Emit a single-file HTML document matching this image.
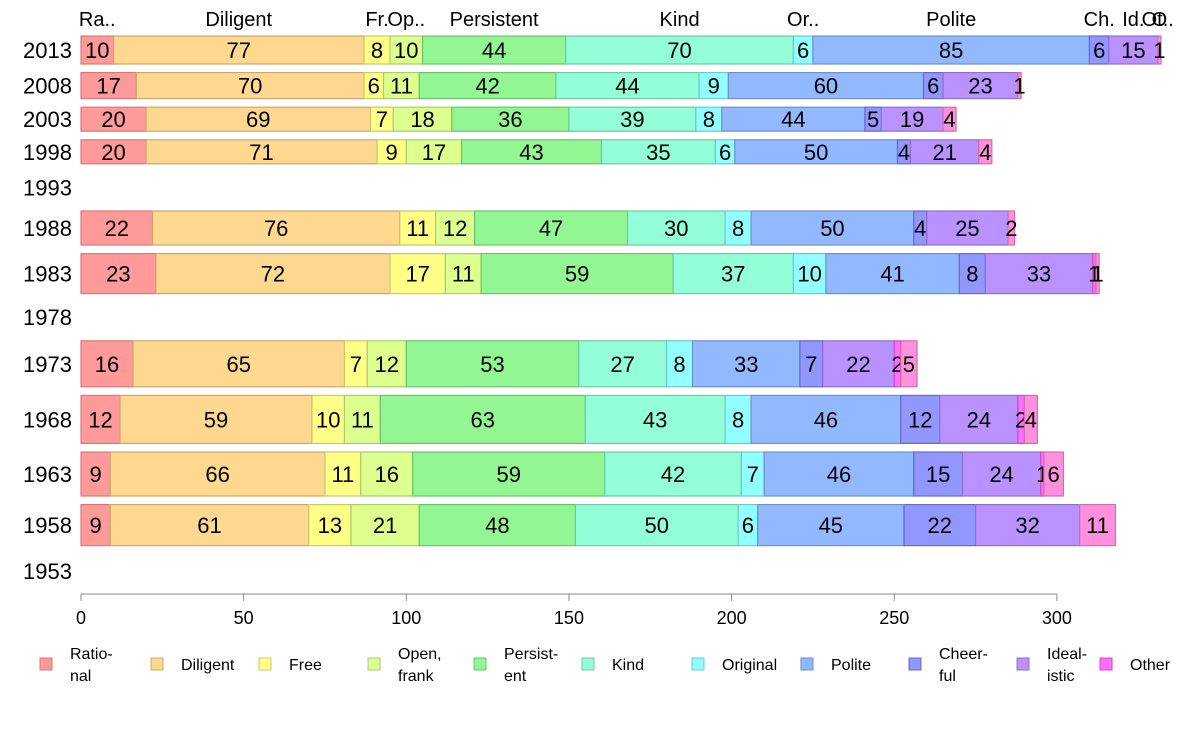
<!DOCTYPE html>
<html><head><meta charset="utf-8">
<style>
body{margin:0;background:#fff;}
svg text{font-family:"Liberation Sans",sans-serif;fill:#000;}
</style></head>
<body>
<svg id="chart" width="1188" height="736" xmlns="http://www.w3.org/2000/svg"></svg>
<script>
const years = ["2013","2008","2003","1998","1993","1988","1983","1978","1973","1968","1963","1958","1953"];
const thickness = [28,26,24,24,30,34,40,30,46,48,44,41,34];
const categories = ["Rational","Diligent","Free","Open, frank","Persistent","Kind","Original","Polite","Cheerful","Idealistic","Other","Other2"];
const shortLabels = ["Ra..","Diligent","Fr.","Op..","Persistent","Kind","Or..","Polite","Ch.","Id.","Ot..","O"];
const legendLabels = [["Ratio-","nal"],["Diligent"],["Free"],["Open,","frank"],["Persist-","ent"],["Kind"],["Original"],["Polite"],["Cheer-","ful"],["Ideal-","istic"],["Other"]];
const v2013 = [10,77,8,10,44,70,6,85,6,15,0,1];
const v2008 = [17,70,6,11,42,44,9,60,6,23,0,1];
const v2003 = [20,69,7,18,36,39,8,44,5,19,0,4];
const v1998 = [20,71,9,17,43,35,6,50,4,21,0,4];
const v1993 = null;
const v1988 = [22,76,11,12,47,30,8,50,4,25,0,2];
const v1983 = [23,72,17,11,59,37,10,41,8,33,1,1];
const v1978 = null;
const v1973 = [16,65,7,12,53,27,8,33,7,22,2,5];
const v1968 = [12,59,10,11,63,43,8,46,12,24,2,4];
const v1963 = [9,66,11,16,59,42,7,46,15,24,1,6];
const v1958 = [9,61,13,21,48,50,6,45,22,32,0,11];
const v1953 = null;
const series = [v2013,v2008,v2003,v1998,v1993,v1988,v1983,v1978,v1973,v1968,v1963,v1958,v1953];
const xTicks = [0,50,100,150,200,250,300];

const fills = ["#ff9a9a","#ffd890","#ffff88","#ddff8e","#92f792","#92ffd9","#92ffff","#92b8ff","#9296ff","#ba92ff","#ff6eff","#ff90dd"];
const strokes = ["#d77a7a","#c9a870","#c8c870","#aacc70","#70c070","#70c8a8","#70c8c8","#7090c8","#6a6ac0","#9070c8","#c850c8","#d070a8"];

const svg = document.getElementById('chart');
const NS = "http://www.w3.org/2000/svg";
const x0 = 81, pxPerUnit = 3.253;
function xs(v){return x0 + v*pxPerUnit;}
function mk(tag, attrs, parent){
  const e = document.createElementNS(NS, tag);
  for (const k in attrs) e.setAttribute(k, attrs[k]);
  (parent||svg).appendChild(e);
  return e;
}
// y layout
const gap = 8.6;
const tops = []; let y = 36;
for (let i=0;i<years.length;i++){ tops.push(y); y += thickness[i] + gap; }

// bars
for (let i=0;i<years.length;i++){
  const cy = tops[i] + thickness[i]/2;
  const yl = mk('text',{x:72,y:cy+8,'text-anchor':'end','font-size':22});
  yl.textContent = years[i];
  
  
  const vals = series[i];
  if (!vals) continue;
  let acc = 0;
  const g = mk('g',{});
  
  
  for (let j=0;j<vals.length;j++){
    const a = xs(acc), b = xs(acc+vals[j]);
    acc += vals[j];
    if (vals[j] <= 0) continue;
    const r = mk('rect',{x:a,y:tops[i],width:b-a,height:thickness[i],fill:fills[j],stroke:strokes[j],'stroke-width':1.2},g);
    
    
    const t = mk('text',{x:(a+b)/2,y:cy+8,'text-anchor':'middle','font-size':22},g);
    t.textContent = vals[j];
    
    
  }
}
// top category labels (centered on first row)
{
  let acc = 0;
  for (let j=0;j<v2013.length;j++){
    const c = xs(acc + v2013[j]/2); acc += v2013[j];
    const t = mk('text',{x:c,y:26,'text-anchor':'middle','font-size':20});
    t.textContent = shortLabels[j];
    
    
  }
}
// x axis
const ax = mk('line',{x1:xs(0),x2:xs(300),y1:594,y2:594,stroke:'#888','stroke-width':1});


for (const v of xTicks){
  const tk = mk('line',{x1:xs(v),x2:xs(v),y1:594,y2:601,stroke:'#888','stroke-width':1});
  
  
  const tl = mk('text',{x:xs(v),y:624,'text-anchor':'middle','font-size':18});
  tl.textContent = v;
  
  
}
// legend
const legX = [46,157,265,374,480,588,698,807,915,1023,1106];
for (let j=0;j<legendLabels.length;j++){
  const g = mk('g',{});
  
  
  mk('rect',{x:legX[j]-6,y:658,width:12,height:12,fill:fills[j],stroke:strokes[j],'stroke-width':1},g);
  const lines = legendLabels[j];
  const tx = legX[j]+24;
  if (lines.length===1){
    const t = mk('text',{x:tx,y:670,'font-size':16},g); t.textContent = lines[0];
  } else {
    const t1 = mk('text',{x:tx,y:659,'font-size':16},g); t1.textContent = lines[0];
    const t2 = mk('text',{x:tx,y:681,'font-size':16},g); t2.textContent = lines[1];
  }
}
</script>
</body></html>
